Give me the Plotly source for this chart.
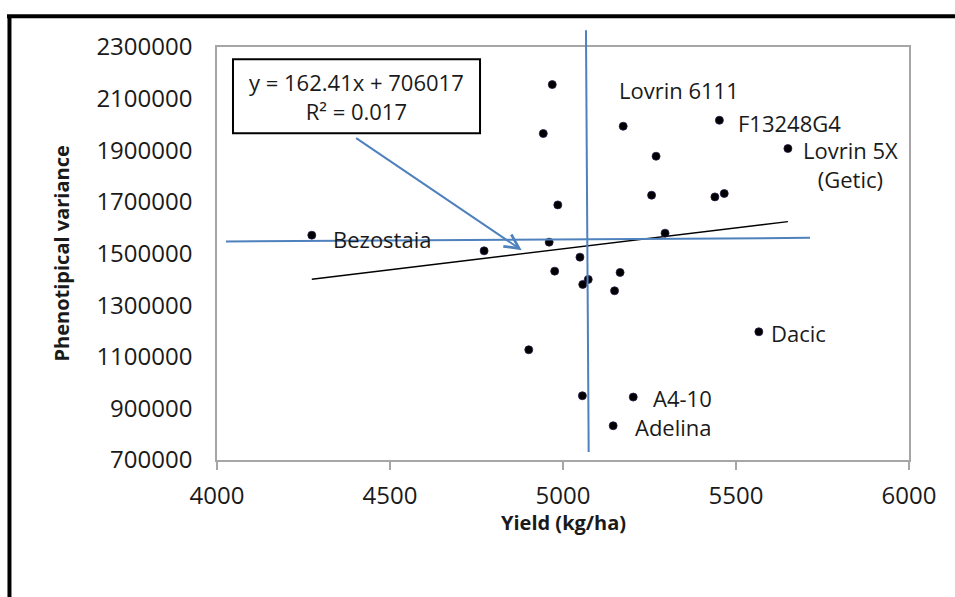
import plotly.graph_objects as go

# ---- data ----
yield_kg_ha = [4969, 4943, 5174, 5452, 5650, 5269, 5256, 5439, 5466, 4985,
               4274, 5295, 4960, 4772, 5049, 4976, 5165, 5073, 5057, 5149,
               5566, 4901, 5056, 5203, 5145]
phen_variance = [2154400, 1964700, 1993000, 2016240, 1906680, 1876870, 1725890,
                 1719300, 1732460, 1688330, 1571040, 1578780, 1543940, 1510250,
                 1485870, 1431690, 1426640, 1399540, 1380180, 1355400, 1196680,
                 1127000, 948920, 943880, 832780]
point_labels = ["", "", "Lovrin 6111", "F13248G4", "Lovrin 5X<br>(Getic)", "", "",
                "", "", "", "Bezostaia", "", "", "", "", "", "", "", "", "",
                "Dacic", "", "", "A4-10", "Adelina"]
slope = 162.41
intercept = 706017
r_squared = 0.017
x_ticks = [4000, 4500, 5000, 5500, 6000]
y_ticks = [700000, 900000, 1100000, 1300000, 1500000, 1700000, 1900000, 2100000, 2300000]

# ---- label placement (pixel offsets from each labelled point) ----
label_offsets = {
    "Lovrin 6111": (-6, 36),
    "F13248G4": (17, -3),
    "Lovrin 5X<br>(Getic)": (13, -16),
    "Bezostaia": (19, -4),
    "Dacic": (10, -1),
    "A4-10": (18, -1),
    "Adelina": (20, -1),
}

FONT = "Open Sans"
BLUE = "#4F81BD"
GRAY = "#A6A6A6"

fig = go.Figure()

# trendline from the stated equation
x_min, x_max = min(yield_kg_ha), max(yield_kg_ha)
fig.add_trace(go.Scatter(
    x=[x_min, x_max], y=[slope * x_min + intercept, slope * x_max + intercept],
    mode="lines", line=dict(color="black", width=1.3), hoverinfo="skip",
    showlegend=False))

fig.add_trace(go.Scatter(
    x=yield_kg_ha, y=phen_variance, mode="markers",
    marker=dict(color="#000000", size=8, line=dict(color="#2a1a4a", width=0.8)),
    showlegend=False))

annotations = []
for xv, yv, lab in zip(yield_kg_ha, phen_variance, point_labels):
    if not lab:
        continue
    dx, dy = label_offsets[lab]
    annotations.append(dict(
        x=xv, y=yv, xref="x", yref="y", text=lab, showarrow=False,
        xanchor="left", yanchor="middle", align="center",
        xshift=dx, yshift=dy, font=dict(family=FONT, size=22, color="#1a1a1a")))

# equation text inside its box
annotations.append(dict(
    x=0.2016, y=0.8807, xref="paper", yref="paper",
    text=f"y = {slope}x + {intercept}<br>R² = {r_squared}",
    showarrow=False, xanchor="center", yanchor="middle", align="center",
    font=dict(family=FONT, size=22, color="#1a1a1a")))

# arrow from the box to the trendline
annotations.append(dict(
    x=4880.6, y=1512970, xref="x", yref="y", text="",
    showarrow=True, arrowhead=5, arrowsize=1.4, arrowwidth=2, arrowcolor=BLUE,
    ax=-167, ay=-113, axref="pixel", ayref="pixel"))

# axis titles
annotations.append(dict(
    x=-0.224, y=0.5, xref="paper", yref="paper", text="<b>Phenotipical variance</b>",
    textangle=-90, showarrow=False, xanchor="center", yanchor="middle",
    font=dict(family=FONT, size=20, color="#1a1a1a")))
annotations.append(dict(
    x=0.5, y=-0.1524, xref="paper", yref="paper", text="<b>Yield (kg/ha)</b>",
    showarrow=False, xanchor="center", yanchor="middle",
    font=dict(family=FONT, size=20, color="#1a1a1a")))

shapes = [
    # equation box
    dict(type="rect", xref="paper", yref="paper", x0=0.0231, x1=0.3801,
         y0=0.7912, y1=0.9702, line=dict(color="black", width=2),
         fillcolor="white", layer="above"),
    # hand drawn blue lines
    dict(type="line", xref="paper", yref="paper", x0=0.5332, y0=1.0404,
         x1=0.5371, y1=0.0194, line=dict(color=BLUE, width=2)),
    dict(type="line", xref="paper", yref="paper", x0=0.0130, y0=0.5292,
         x1=0.8569, y1=0.5379, line=dict(color=BLUE, width=2)),
    # outer black frame
    dict(type="line", xref="paper", yref="paper", x0=-0.3035, y0=1.0743,
         x1=1.07, y1=1.0743, line=dict(color="black", width=4)),
    dict(type="line", xref="paper", yref="paper", x0=-0.2999, y0=1.0743,
         x1=-0.2999, y1=-0.34, line=dict(color="black", width=4)),
]

fig.update_layout(
    width=955, height=597,
    margin=dict(l=217, r=46, t=47, b=137),
    paper_bgcolor="white", plot_bgcolor="white",
    annotations=annotations, shapes=shapes,
    xaxis=dict(range=[4000, 6000], tickvals=x_ticks, ticktext=[str(v) for v in x_ticks],
               showgrid=False, zeroline=False, showline=True, linecolor=GRAY,
               linewidth=1.5, mirror=True, ticks="outside", ticklen=8,
               tickcolor=GRAY, tickwidth=1.5, ticklabelstandoff=5,
               tickfont=dict(family=FONT, size=24, color="#1a1a1a")),
    yaxis=dict(range=[700000, 2300000], tickvals=y_ticks,
               ticktext=[str(v) for v in y_ticks],
               showgrid=False, zeroline=False, showline=True, linecolor=GRAY,
               linewidth=1.5, mirror=True, ticks="", ticklabelstandoff=18,
               tickfont=dict(family=FONT, size=24, color="#1a1a1a")),
    showlegend=False,
)

fig.write_html("out.html",
               config={"displayModeBar": False},
               post_script="document.body.style.margin='0';"
                           "document.body.style.overflow='hidden';")
